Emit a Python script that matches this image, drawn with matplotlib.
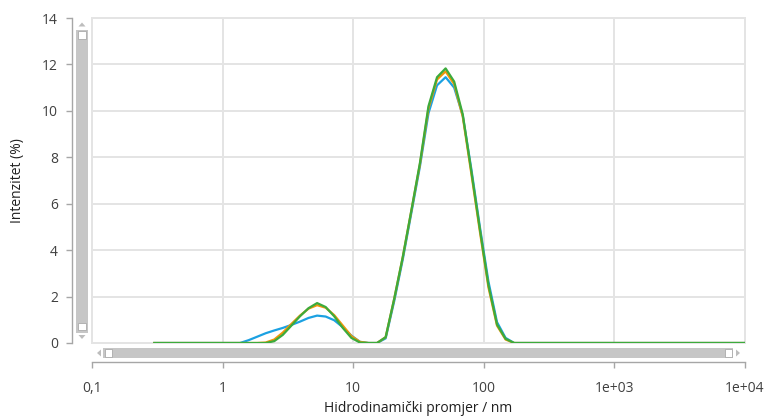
import matplotlib
matplotlib.use("Agg")
import matplotlib.pyplot as plt
from matplotlib.patches import Rectangle, Polygon
from matplotlib.ticker import NullLocator, FixedLocator, FixedFormatter

plt.rcParams['font.family'] = ['Open Sans', 'DejaVu Sans']

# Size classes (nm)
sizes = [0.300, 0.349, 0.406, 0.472, 0.549, 0.638, 0.742, 0.863, 1.004, 1.168,
         1.358, 1.580, 1.838, 2.137, 2.486, 2.891, 3.363, 3.911, 4.549, 5.291,
         6.154, 7.157, 8.324, 9.682, 11.26, 13.10, 15.23, 17.72, 20.60, 23.96,
         27.87, 32.42, 37.70, 43.85, 51.00, 59.32, 68.99, 80.24, 93.33, 108.5,
         126.2, 146.8, 170.8, 198.6, 231.0, 268.7, 312.5, 363.5, 422.7, 491.7,
         571.9, 665.1, 773.6, 899.8, 1046, 1217, 1416, 1647, 1915, 2227,
         2591, 3013, 3505, 4076, 4741, 5514, 6414, 7460, 8676, 10000]

# Intensity (%) per measurement
blue = [0, 0, 0, 0, 0, 0, 0, 0, 0, 0,
        0, 0.12, 0.27, 0.42, 0.54, 0.65, 0.78, 0.92, 1.08, 1.18,
        1.14, 0.98, 0.68, 0.32, 0.05, 0, 0, 0.2, 1.8, 3.6,
        5.6, 7.6, 9.9, 11.1, 11.45, 11.0, 9.8, 7.5, 5.0, 2.65,
        0.9, 0.22, 0, 0, 0, 0, 0, 0, 0, 0,
        0, 0, 0, 0, 0, 0, 0, 0, 0, 0,
        0, 0, 0, 0, 0, 0, 0, 0, 0, 0]
orange = [0, 0, 0, 0, 0, 0, 0, 0, 0, 0,
          0, 0, 0, 0.02, 0.15, 0.45, 0.82, 1.18, 1.48, 1.63,
          1.52, 1.2, 0.75, 0.3, 0.05, 0, 0, 0.25, 1.9, 3.7,
          5.7, 7.7, 10.1, 11.35, 11.7, 11.15, 9.75, 7.3, 4.8, 2.4,
          0.75, 0.15, 0, 0, 0, 0, 0, 0, 0, 0,
          0, 0, 0, 0, 0, 0, 0, 0, 0, 0,
          0, 0, 0, 0, 0, 0, 0, 0, 0, 0]
green = [0, 0, 0, 0, 0, 0, 0, 0, 0, 0,
         0, 0, 0, 0, 0.08, 0.35, 0.75, 1.15, 1.5, 1.72,
         1.55, 1.15, 0.65, 0.22, 0.02, 0, 0, 0.25, 1.9, 3.7,
         5.7, 7.75, 10.2, 11.45, 11.83, 11.26, 9.85, 7.4, 4.9, 2.5,
         0.8, 0.18, 0, 0, 0, 0, 0, 0, 0, 0,
         0, 0, 0, 0, 0, 0, 0, 0, 0, 0,
         0, 0, 0, 0, 0, 0, 0, 0, 0, 0]

xtick_values = [0.1, 1, 10, 100, 1000, 10000]
xtick_labels = ["0,1", "1", "10", "100", "1e+03", "1e+04"]
ytick_values = [0, 2, 4, 6, 8, 10, 12, 14]
ytick_labels = ["0", "2", "4", "6", "8", "10", "12", "14"]

W, H = 769, 416
fig = plt.figure(figsize=(W / 100, H / 100), dpi=100)
ax = fig.add_axes([92 / W, 1 - 343 / H, (745 - 92) / W, (343 - 18) / H])

ax.set_xscale('log')
ax.set_xlim(0.1, 10000)
ax.set_ylim(0, 14)

ax.plot(sizes, blue, color='#1ba1e2', lw=1.6, zorder=3)
ax.plot(sizes, orange, color='#f09609', lw=1.6, zorder=4)
ax.plot(sizes, green, color='#3cab3c', lw=1.6, zorder=5)

ax.xaxis.set_major_locator(FixedLocator(xtick_values))
ax.xaxis.set_major_formatter(FixedFormatter(xtick_labels))
ax.xaxis.set_minor_locator(NullLocator())
ax.yaxis.set_major_locator(FixedLocator(ytick_values))
ax.yaxis.set_major_formatter(FixedFormatter(ytick_labels))

ax.set_axisbelow(True)
ax.grid(True, color='#e4e4e4', lw=1.4, clip_on=False)

for s in ['top', 'right']:
    ax.spines[s].set_visible(False)
ax.spines['left'].set_position(('outward', 14.6))
ax.spines['bottom'].set_position(('outward', 13.7))
for s in ['left', 'bottom']:
    ax.spines[s].set_color('#a6a6a6')
    ax.spines[s].set_linewidth(1.0)

ax.tick_params(axis='both', direction='out', color='#a6a6a6', width=1.0,
               labelcolor='#404040', labelsize=10)
ax.tick_params(axis='y', length=4, pad=6)
ax.tick_params(axis='x', length=4.5, pad=9)

ax.set_xlabel('Hidrodinamički promjer / nm', fontsize=10, color='#202020', labelpad=4)
ax.set_ylabel('Intenzitet (%)', fontsize=10, color='#202020', labelpad=12)

# scrollbars (pixel coords, top-left origin)
def fx(x):
    return x / W

def fy(y):
    return 1 - y / H

bar_c = '#c6c6c6'
arrow_c = '#bdbdbd'
# vertical
fig.add_artist(Rectangle((fx(76), fy(333)), 12 / W, (333 - 30) / H,
                         transform=fig.transFigure, color=bar_c, lw=0))
for y0 in (31.5, 322.5):
    fig.add_artist(Rectangle((fx(78), fy(y0 + 7)), 8 / W, 7 / H, transform=fig.transFigure,
                             facecolor='white', edgecolor='#aaaaaa', lw=0.6))
fig.add_artist(Polygon([(fx(78.5), fy(26.5)), (fx(85.5), fy(26.5)), (fx(82), fy(22.5))],
                       closed=True, transform=fig.transFigure, color=arrow_c, lw=0))
fig.add_artist(Polygon([(fx(78.5), fy(335)), (fx(85.5), fy(335)), (fx(82), fy(339))],
                       closed=True, transform=fig.transFigure, color=arrow_c, lw=0))
# horizontal
fig.add_artist(Rectangle((fx(103), fy(358)), (733 - 103) / W, 10 / H,
                         transform=fig.transFigure, color=bar_c, lw=0))
for x0 in (104.5, 724.5):
    fig.add_artist(Rectangle((fx(x0), fy(356.5)), 7.5 / W, 7.5 / H, transform=fig.transFigure,
                             facecolor='white', edgecolor='#aaaaaa', lw=0.6))
fig.add_artist(Polygon([(fx(101), fy(349.5)), (fx(101), fy(356.5)), (fx(97), fy(353))],
                       closed=True, transform=fig.transFigure, color=arrow_c, lw=0))
fig.add_artist(Polygon([(fx(736), fy(349.5)), (fx(736), fy(356.5)), (fx(740), fy(353))],
                       closed=True, transform=fig.transFigure, color=arrow_c, lw=0))

fig.savefig('out.png', dpi=100)
